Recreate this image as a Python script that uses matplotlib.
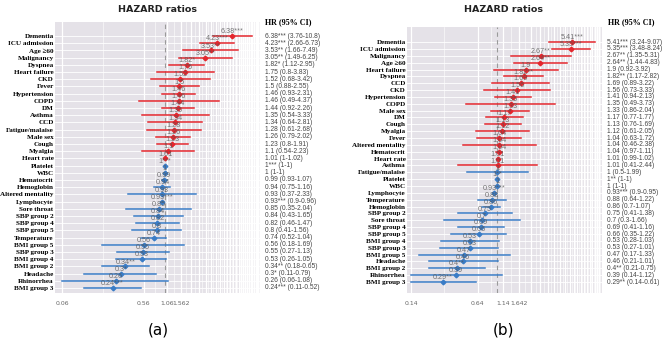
import numpy as np
import matplotlib.pyplot as plt
from matplotlib import font_manager
from matplotlib.transforms import blended_transform_factory

# panel (a)
labels_a = ['Dementia', 'ICU admission', 'Age \u226560', 'Malignancy', 'Dyspnea',
            'Heart failure', 'CKD', 'Fever', 'Hypertension', 'COPD', 'DM', 'Asthma',
            'CCD', 'Fatigue/malaise', 'Male sex', 'Cough', 'Myalgia', 'Heart rate',
            'Platelet', 'WBC', 'Hematocrit', 'Hemoglobin', 'Altered mentality',
            'Lymphocyte', 'Sore throat', 'SBP group 2', 'SBP group 4', 'SBP group 5',
            'Temperature', 'BMI group 5', 'SBP group 3', 'BMI group 4', 'BMI group 2',
            'Headache', 'Rhinorrhea', 'BMI group 3']
hr_a = [6.38, 4.23, 3.53, 3.05, 1.82, 1.75, 1.52, 1.5, 1.46, 1.46, 1.44, 1.35,
        1.34, 1.28, 1.26, 1.23, 1.1, 1.01, 1, 1, 0.99, 0.94, 0.93, 0.93,
        0.85, 0.84, 0.82, 0.8, 0.74, 0.56, 0.55, 0.53, 0.34, 0.3, 0.26, 0.24]
lo_a = [3.76, 2.66, 1.66, 1.49, 1.12, 0.8, 0.68, 0.88, 0.93, 0.49, 0.92, 0.54,
        0.64, 0.61, 0.79, 0.8, 0.54, 1, 1, 1, 0.93, 0.75, 0.37, 0.9,
        0.35, 0.43, 0.46, 0.41, 0.52, 0.18, 0.27, 0.26, 0.18, 0.11, 0.06, 0.11]
hi_a = [10.8, 6.73, 7.49, 6.25, 2.95, 3.83, 3.42, 2.55, 2.31, 4.37, 2.26, 3.33,
        2.81, 2.68, 2.02, 1.91, 2.23, 1.02, 1, 1, 1.07, 1.16, 2.33, 0.96,
        2.04, 1.65, 1.47, 1.56, 1.04, 1.69, 1.13, 1.05, 0.65, 0.79, 1.08, 0.52]
sig_a = ['***', '***', '**', '**', '*', '', '', '', '', '', '', '',
         '', '', '', '', '', '', '***', '', '', '', '', '***',
         '', '', '', '', '', '', '', '', '**', '*', '', '***']
ticks_a = [0.06, 0.56, 1.06, 1.56]
ticklabels_a = ['0.06', '0.56', '1.06', '1.562']

# panel (b)
labels_b = ['Dementia', 'ICU admission', 'Malignancy', 'Age \u226560', 'Heart failure',
            'Dyspnea', 'CCD', 'CKD', 'Hypertension', 'COPD', 'Male sex', 'DM', 'Cough',
            'Myalgia', 'Fever', 'Altered mentality', 'Hematocrit', 'Heart rate', 'Asthma',
            'Fatigue/malaise', 'Platelet', 'WBC', 'Lymphocyte', 'Temperature',
            'Hemoglobin', 'SBP group 2', 'Sore throat', 'SBP group 4', 'SBP group 5',
            'BMI group 4', 'SBP group 3', 'BMI group 5', 'Headache', 'BMI group 2',
            'Rhinorrhea', 'BMI group 3']
hr_b = [5.41, 5.35, 2.67, 2.64, 1.9, 1.82, 1.69, 1.56, 1.41, 1.35, 1.33, 1.17,
        1.13, 1.12, 1.04, 1.04, 1.04, 1.01, 1.01, 1, 1, 1, 0.93, 0.88,
        0.86, 0.75, 0.7, 0.69, 0.66, 0.53, 0.53, 0.47, 0.46, 0.4, 0.39, 0.29]
lo_b = [3.24, 3.48, 1.35, 1.44, 0.92, 1.17, 0.89, 0.73, 0.94, 0.49, 0.86, 0.77,
        0.76, 0.61, 0.63, 0.46, 0.97, 0.99, 0.41, 0.5, 1, 1, 0.9, 0.64,
        0.7, 0.41, 0.3, 0.41, 0.35, 0.28, 0.27, 0.17, 0.21, 0.21, 0.14, 0.14]
hi_b = [9.07, 8.24, 5.31, 4.83, 3.92, 2.82, 3.22, 3.33, 2.13, 3.73, 2.04, 1.77,
        1.69, 2.05, 1.72, 2.38, 1.11, 1.02, 2.44, 1.99, 1, 1, 0.95, 1.22,
        1.07, 1.38, 1.66, 1.16, 1.22, 1.03, 1.01, 1.33, 1.01, 0.75, 1.12, 0.61]
sig_b = ['***', '***', '**', '**', '', '**', '', '', '', '', '', '',
         '', '', '', '', '', '', '', '', '**', '', '***', '',
         '', '', '', '', '', '', '', '', '', '**', '', '**']
ticks_b = [0.14, 0.64, 1.14, 1.64]
ticklabels_b = ['0.14', '0.64', '1.14', '1.642']

W, H = 669, 342
RED = '#e3262d'
BLUE = '#3a7cc6'
BG = '#e5e2e8'

# narrow sans for the HR column if it is there
installed = {f.name for f in font_manager.fontManager.ttflist}
if 'Liberation Sans Narrow' in installed:
    NARROW, HR_SIZE = 'Liberation Sans Narrow', 5.6
else:
    NARROW, HR_SIZE = 'Liberation Sans', 4.8


def forest(ax, labels, hr, lo, hi, sig, ticks, ticklabels, xlim, ylim, hr_x):
    n = len(labels)
    y = np.arange(n)[::-1]
    ax.set_facecolor(BG)
    ax.set_xscale('log')
    ax.set_xlim(xlim)
    ax.set_ylim(ylim)

    # gridlines every 0.5 from the first tick
    major = np.arange(ticks[0], xlim[1], 0.5)
    for v in major:
        ax.axvline(v, color='white', lw=0.9, zorder=0.5)
    for a, b in zip(major[:-1], major[1:]):
        ax.axvline(np.sqrt(a * b), color='white', lw=0.4, zorder=0.5)
    for yy in y:
        ax.axhline(yy, color='white', lw=0.6, zorder=0.5)
    ax.axvline(1, color='#9a9a9a', lw=0.8, ls=(0, (4, 3)), zorder=1)

    for i in range(n):
        c = RED if hr[i] > 1 else BLUE
        ax.plot([lo[i], hi[i]], [y[i], y[i]], color=c, lw=1.1, zorder=2)
        ax.plot(hr[i], y[i], marker='D', ms=2.4, color=c, zorder=3)
        ax.text(hr[i], y[i] + 0.12, f'{hr[i]:g}{sig[i]}', ha='center', va='bottom',
                fontsize=5.2, color='#555555', alpha=0.8, zorder=4,
                fontfamily=NARROW)

    ax.set_yticks(y)
    ax.set_yticklabels(labels, fontsize=5.1, fontfamily='Liberation Serif',
                       fontweight='bold')
    ax.set_xticks(ticks)
    ax.set_xticklabels(ticklabels, fontsize=4.4, color='#666666')
    ax.minorticks_off()
    ax.tick_params(length=0, pad=1)
    ax.tick_params(axis='x', pad=6)
    for s in ax.spines.values():
        s.set_visible(False)

    # HR (95% CI) column
    tr = blended_transform_factory(ax.transAxes, ax.transData)
    for i in range(n):
        ax.text(hr_x, y[i], f'{hr[i]:g}{sig[i]} ({lo[i]:g}-{hi[i]:g})', transform=tr,
                ha='left', va='center', fontsize=HR_SIZE, color='#444444',
                fontfamily=NARROW)


fig = plt.figure(figsize=(W / 100, H / 100), dpi=100)

ax1 = fig.add_axes([55 / W, 49 / H, 206 / W, 271 / H])
forest(ax1, labels_a, hr_a, lo_a, hi_a, sig_a, ticks_a, ticklabels_a,
       (0.0495, 14.0), (-0.7, 36.95), 1.02)

ax2 = fig.add_axes([407 / W, 49 / H, 195 / W, 266 / H])
forest(ax2, labels_b, hr_b, lo_b, hi_b, sig_b, ticks_b, ticklabels_b,
       (0.128, 10.75), (-1.6, 37.2), 1.027)

# titles, headers, panel letters
for cx, hx, letter in [(158, 265, '(a)'), (504, 608, '(b)')]:
    fig.text(cx / W, 1 - 9 / H, 'HAZARD ratios', ha='center', va='center',
             fontsize=6.8, fontweight='bold', color='#222222')
    fig.text(hx / W, 1 - 22 / H, 'HR (95% CI)', ha='left', va='center',
             fontsize=5.8, fontweight='bold', fontfamily='Liberation Serif')
    fig.text(cx / W, 1 - 330 / H, letter, ha='center', va='center', fontsize=11)

fig.savefig('out.png', dpi=100)
